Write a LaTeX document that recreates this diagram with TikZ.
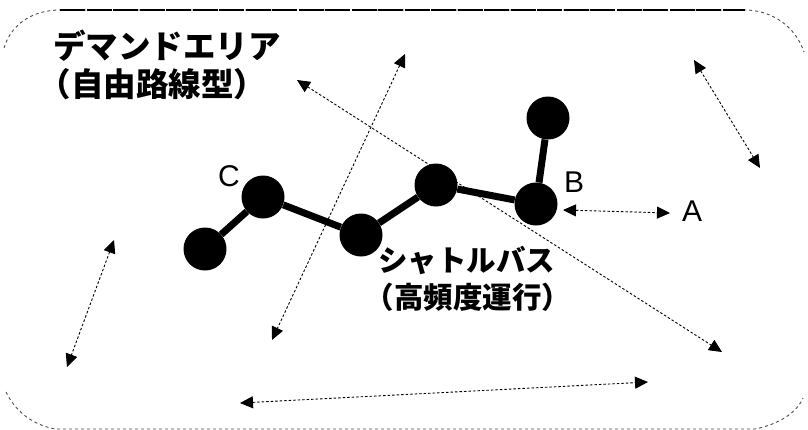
\documentclass[tikz,border=0pt]{standalone}
\usepackage{fontspec}
\setmainfont{Liberation Sans}
\newfontfamily\jpfont{Noto Sans CJK JP}
\usetikzlibrary{arrows.meta}
\newcommand{\lpar}{\makebox[0.55em][r]{（}}
\newcommand{\rpar}{\makebox[0.55em][l]{）}}
\begin{document}
\begin{tikzpicture}[x=1pt,y=-1pt,
  stop/.style={circle,fill=black,minimum size=43pt,inner sep=0pt},
  busline/.style={line width=7pt},
  darr/.style={line width=0.9pt,dash pattern=on 2.5pt off 2pt,
    {Triangle[length=13pt,width=12pt]}-{Triangle[length=13pt,width=12pt]}},
  jpbig/.style={font=\jpfont\bfseries\fontsize{32.5}{38}\selectfont,align=left,inner sep=0pt,anchor=west},
  jpmid/.style={font=\jpfont\bfseries\fontsize{29.5}{37}\selectfont,align=left,inner sep=0pt,anchor=west},
  letter/.style={font=\fontsize{30}{30}\selectfont,inner sep=0pt},
  border/.style={line width=0.9pt,dash pattern=on 3pt off 3pt,black!70}]
\useasboundingbox (0,0) rectangle (808,429);
% area boundary
\draw[border] (4,48) .. controls (12,22) and (35,10) .. (60,10) -- (745,10)
  .. controls (770,10) and (795,25) .. (804,52);
\draw[line width=1.3pt,dash pattern=on 25pt off 1.5pt] (60,10) -- (745,10);
\draw[border] (6,392) .. controls (15,410) and (30,424) .. (55,429) -- (755,429)
  .. controls (780,424) and (797,412) .. (803,398);
% arrow end points
\coordinate (a1s) at (297,80);  \coordinate (a1e) at (722,352);
\coordinate (a2s) at (405,54);  \coordinate (a2e) at (272,340);
\coordinate (a3s) at (694,60);  \coordinate (a3e) at (760,168);
\coordinate (a4s) at (114,240); \coordinate (a4e) at (67,367);
\coordinate (a5s) at (240,403); \coordinate (a5e) at (648,382);
\coordinate (a6s) at (563,210); \coordinate (a6e) at (670,213);
\draw[darr] (a1s) -- (a1e);
\draw[darr] (a2s) -- (a2e);
\draw[darr] (a3s) -- (a3e);
\draw[darr] (a4s) -- (a4e);
\draw[darr] (a5s) -- (a5e);
\draw[darr] (a6s) -- (a6e);
% shuttle bus stops
\node[stop] (n1) at (205,249) {};
\node[stop] (n2) at (263,197) {};
\node[stop] (n3) at (361,235) {};
\node[stop] (n4) at (436,185) {};
\node[stop] (n5) at (536,204) {};
\node[stop] (n6) at (548,118) {};
\draw[busline] (n1) -- (n2) -- (n3) -- (n4) -- (n5) -- (n6);
% labels
\node[letter] (lc) at (229,176) {C};
\node[letter] (lb) at (574,182) {B};
\node[letter] (la) at (692,211) {A};
\node[jpbig] (demand) at (53,65) {デマンドエリア\\\lpar 自由路線型\rpar};
\node[jpmid] (shuttle) at (378,279) {シャトルバス\\\lpar 高頻度運行\rpar};
\end{tikzpicture}
\end{document}
